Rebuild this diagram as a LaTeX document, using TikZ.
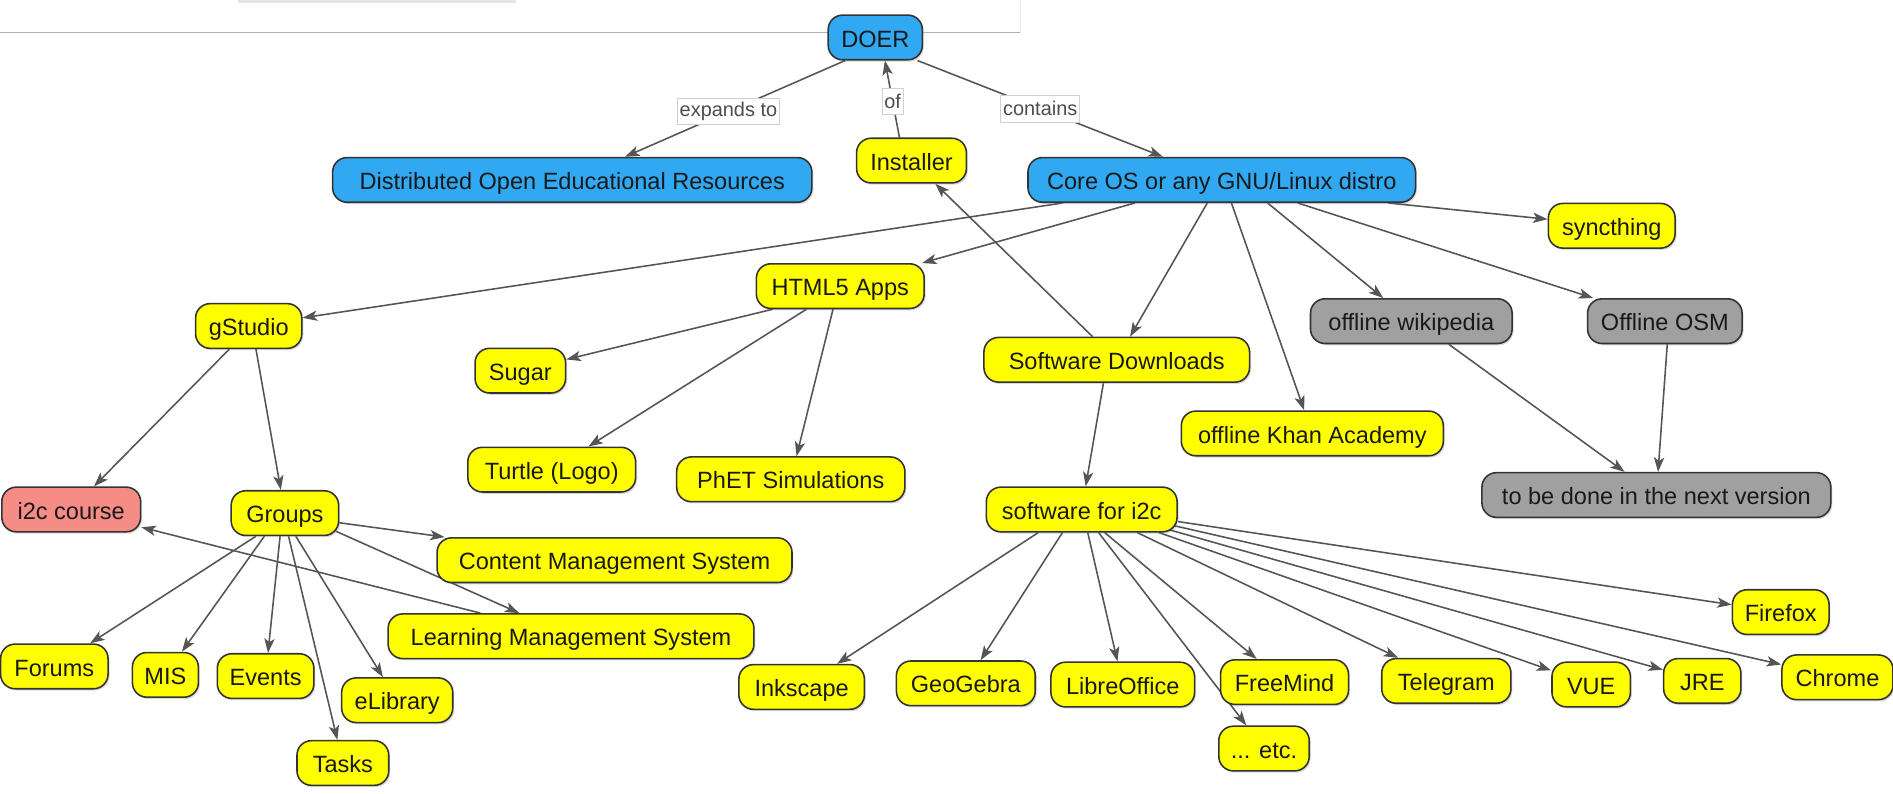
\documentclass[tikz,border=0pt]{standalone}
\usepackage{fontspec}
\setmainfont{Liberation Sans}
\usetikzlibrary{arrows.meta,shadows}
\definecolor{nblue}{RGB}{48,168,242}
\definecolor{nyellow}{RGB}{255,255,0}
\definecolor{ngray}{RGB}{160,160,160}
\definecolor{npink}{RGB}{245,140,134}
\definecolor{ndraw}{RGB}{51,51,51}
\definecolor{eline}{RGB}{85,85,85}
\pgfdeclarelayer{bg}
\pgfsetlayers{bg,main}
\begin{document}
\begin{tikzpicture}[x=1pt,y=1pt,
  box/.style={draw=ndraw, line width=1.3pt, rounded corners=12pt, minimum height=37pt, inner xsep=10pt, inner ysep=2pt, text height=16pt, text depth=0pt, font=\fontsize{19.5}{22}\selectfont, text=black!90, drop shadow={shadow xshift=1.2pt, shadow yshift=-1.5pt, opacity=0.3}},
  yb/.style={box, fill=nyellow},
  bb/.style={box, fill=nblue},
  gb/.style={box, fill=ngray},
  pb/.style={box, fill=npink},
  conn/.style={draw=eline, line width=1.3pt, -{Stealth[length=12pt,width=8.5pt,inset=3pt]}},
  elabel/.style={fill=white, draw=black!18, line width=0.6pt, inner xsep=2pt, inner ysep=2pt, font=\fontsize{16.5}{18}\selectfont, text=black!70, minimum height=22pt}
]
\useasboundingbox (0,0) rectangle (1568,-657);

\begin{pgfonlayer}{bg}
\fill[black!10] (197,0) rectangle (427,-2.5);
\draw[black!30, line width=1.3pt] (0,-27) -- (845,-27);
\draw[black!8, line width=1pt] (845,0) -- (845,-27);
\end{pgfonlayer}

\node[bb, minimum width=78pt] (doer) at (725,-31) {DOER};
\node[bb, minimum width=397pt] (deor) at (474,-149) {Distributed Open Educational Resources};
\node[yb, minimum width=91pt] (inst) at (755,-133) {Installer};
\node[bb, minimum width=321pt] (core) at (1012,-149) {Core OS or any GNU/Linux distro};
\node[yb, minimum width=105pt] (sync) at (1335,-187) {syncthing};
\node[yb, minimum width=139pt] (html) at (696,-237) {HTML5 Apps};
\node[yb, minimum width=88pt] (gst) at (206,-270) {gStudio};
\node[yb, minimum width=75pt] (sugar) at (431,-307) {Sugar};
\node[yb, minimum width=220pt] (sdl) at (925,-298) {Software Downloads};
\node[gb, minimum width=167pt] (wiki) at (1169,-266) {offline wikipedia};
\node[gb, minimum width=128pt] (osm) at (1379,-266) {Offline OSM};
\node[yb, minimum width=217pt] (khan) at (1087,-359) {offline Khan Academy};
\node[yb, minimum width=139pt] (turtle) at (457,-389) {Turtle (Logo)};
\node[yb, minimum width=189pt] (phet) at (655,-397) {PhET Simulations};
\node[gb, minimum width=289pt] (tbd) at (1372,-410) {to be done in the next version};
\node[pb, minimum width=115pt] (i2c) at (59,-422) {i2c course};
\node[yb, minimum width=89pt] (groups) at (236,-425) {Groups};
\node[yb, minimum width=158pt] (sw) at (896,-422) {software for i2c};
\node[yb, minimum width=294pt] (cms) at (509,-464) {Content Management System};
\node[yb, minimum width=303pt] (lms) at (473,-527) {Learning Management System};
\node[yb, minimum width=80pt] (ff) at (1475,-507) {Firefox};
\node[yb, minimum width=89pt] (forums) at (45,-552) {Forums};
\node[yb, minimum width=54pt] (mis) at (137,-559) {MIS};
\node[yb, minimum width=80pt] (events) at (220,-560) {Events};
\node[yb, minimum width=92pt] (elib) at (329,-580) {eLibrary};
\node[yb, minimum width=76pt] (tasks) at (284,-632) {Tasks};
\node[yb, minimum width=104pt] (ink) at (664,-569) {Inkscape};
\node[yb, minimum width=115pt] (geo) at (800,-566) {GeoGebra};
\node[yb, minimum width=119pt] (lo) at (930,-567) {LibreOffice};
\node[yb, minimum width=106pt] (fm) at (1064,-565) {FreeMind};
\node[yb, minimum width=71pt] (etc) at (1047,-620) {... etc.};
\node[yb, minimum width=107pt] (tg) at (1198,-564) {Telegram};
\node[yb, minimum width=65pt] (vue) at (1318,-567) {VUE};
\node[yb, minimum width=64pt] (jre) at (1410,-564) {JRE};
\node[yb, minimum width=92pt] (chrome) at (1522,-561) {Chrome};

\begin{pgfonlayer}{bg}
\draw[conn] ([xshift=-25pt]doer.south) -- node[elabel, pos=0.53]{expands to} (deor);
\draw[conn] ([xshift=-10pt]inst.north) -- node[elabel, pos=0.47]{of} ([xshift=8pt]doer.south);
\draw[conn] ([xshift=35pt]doer.south) -- node[elabel, pos=0.5]{contains} (core);

\draw[conn] ([xshift=-132pt]core.south) -- (gst);
\draw[conn] ([xshift=-72pt]core.south) -- (html);
\draw[conn] ([xshift=-12pt]core.south) -- (sdl);
\draw[conn] ([xshift=8pt]core.south) -- (khan);
\draw[conn] ([xshift=38pt]core.south) -- (wiki);
\draw[conn] ([xshift=63pt]core.south) -- (osm);
\draw[conn] ([xshift=138pt]core.south) -- (sync);

\draw[conn] ([xshift=-20pt]sdl.north) -- (inst);
\draw[conn] ([xshift=-11pt]sdl.south) -- (sw);

\draw[conn] ([xshift=-56pt]html.south) -- (sugar);
\draw[conn] ([xshift=-28pt]html.south) -- (turtle);
\draw[conn] ([xshift=-6pt]html.south) -- (phet);

\draw[conn] ([xshift=-16pt]gst.south) -- (i2c);
\draw[conn] ([xshift=6pt]gst.south) -- (groups);

\draw[conn] ([xshift=31pt]wiki.south) -- (tbd);
\draw[conn] ([xshift=2pt]osm.south) -- (tbd);

\draw[conn] ([yshift=-8pt]groups.east) -- (cms);
\draw[conn] ([xshift=-3pt,yshift=-15pt]groups.east) -- (lms);
\draw[conn] ([xshift=-75pt]lms.north) -- (i2c);
\draw[conn] ([xshift=-24pt]groups.south) -- (forums);
\draw[conn] ([xshift=-17pt]groups.south) -- (mis);
\draw[conn] ([xshift=-4pt]groups.south) -- (events);
\draw[conn] ([xshift=3pt]groups.south) -- (tasks);
\draw[conn] ([xshift=9pt]groups.south) -- (elib);

\draw[conn] ([xshift=-36pt]sw.south) -- (ink);
\draw[conn] ([xshift=-16pt]sw.south) -- (geo);
\draw[conn] ([xshift=5pt]sw.south) -- (lo);
\draw[conn] ([xshift=14pt]sw.south) -- (etc);
\draw[conn] ([xshift=19pt]sw.south) -- (fm);
\draw[conn] ([xshift=46pt]sw.south) -- (tg);
\draw[conn] ([xshift=64pt]sw.south) -- (vue);
\draw[conn] ([xshift=-10pt,yshift=-16pt]sw.east) -- (jre);
\draw[conn] ([xshift=-5pt,yshift=-13pt]sw.east) -- (chrome);
\draw[conn] ([yshift=-10pt]sw.east) -- (ff);
\end{pgfonlayer}
\end{tikzpicture}
\end{document}
